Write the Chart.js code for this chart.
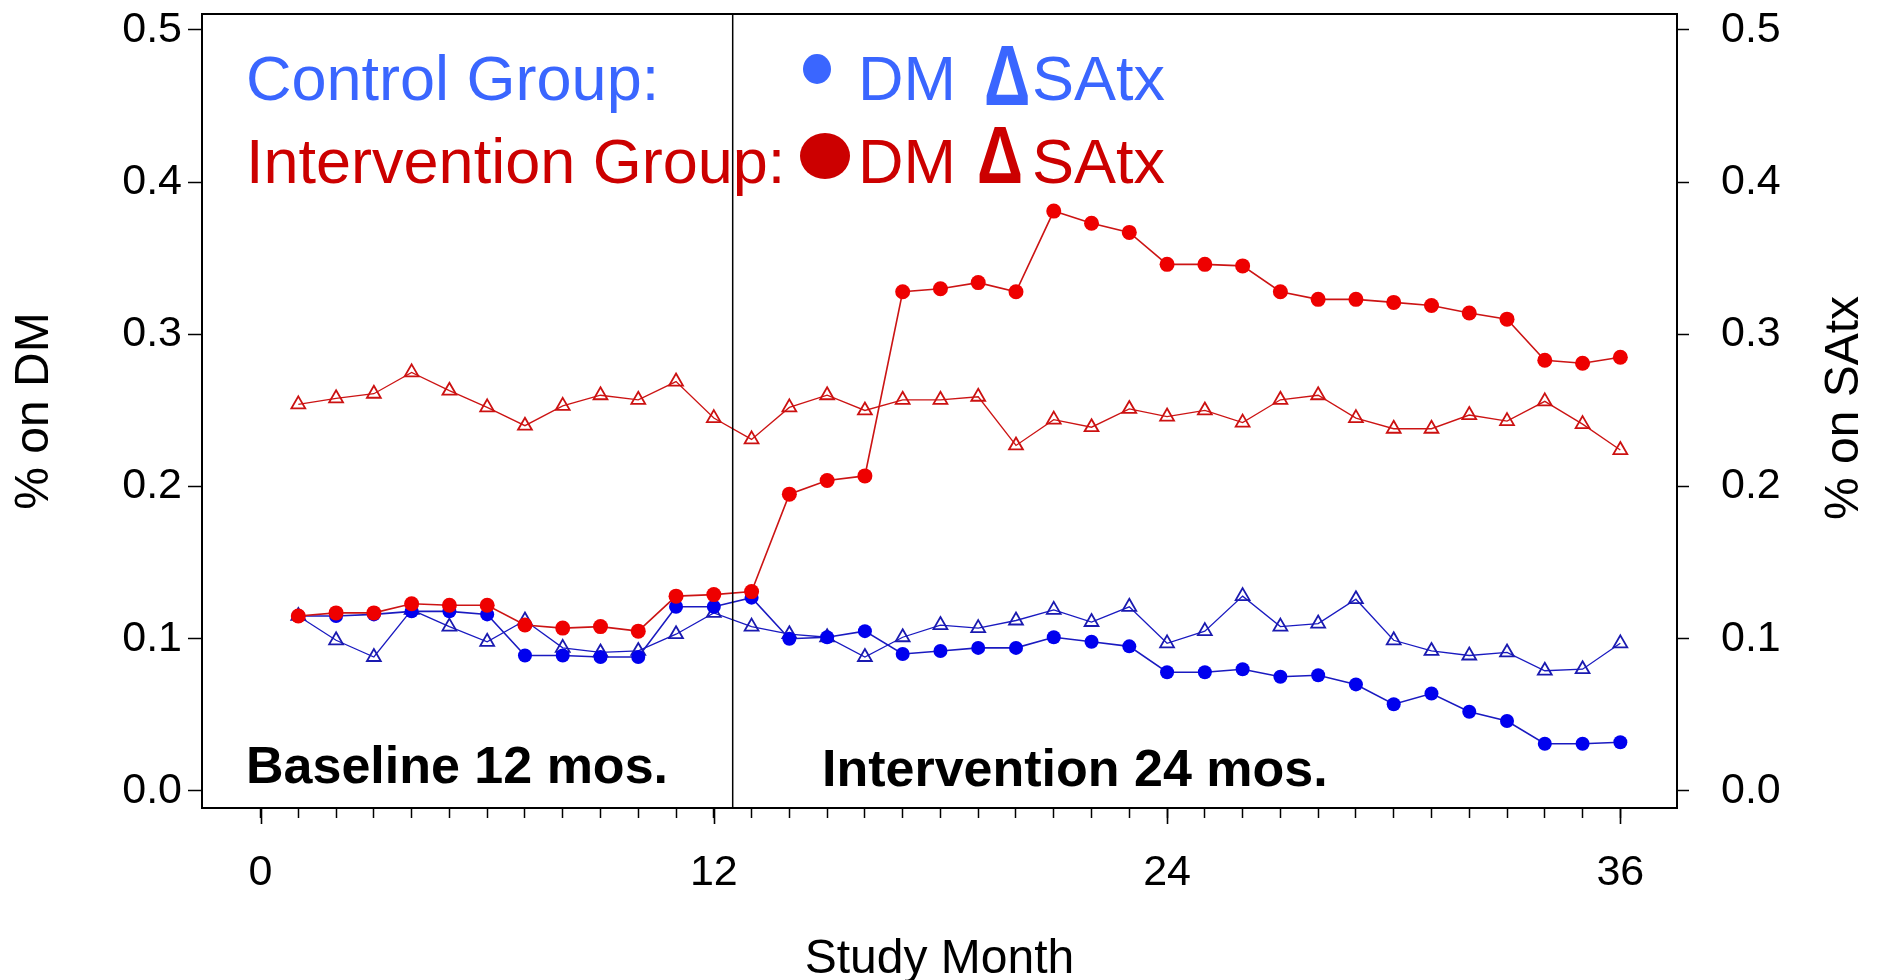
<!DOCTYPE html>
<html>
<head>
<meta charset="utf-8">
<script src="https://cdn.jsdelivr.net/npm/chart.js@4/dist/chart.umd.min.js"></script>
<style>
  html, body { margin: 0; padding: 0; background: #ffffff; }
  #wrap { position: relative; width: 1881px; height: 980px; }
</style>
</head>
<body>
<div id="wrap"><canvas id="c" width="1881" height="980"></canvas></div>
<script>
// ---------------- data ----------------
const months = [1,2,3,4,5,6,7,8,9,10,11,12,13,14,15,16,17,18,19,20,21,22,23,24,25,26,27,28,29,30,31,32,33,34,35,36];

const controlDM = [0.115,0.115,0.116,0.118,0.118,0.116,0.089,0.089,0.088,0.088,0.121,0.121,
                   0.127,0.100,0.101,0.105,0.090,0.092,0.094,0.094,0.101,0.098,0.095,0.078,
                   0.078,0.080,0.075,0.076,0.070,0.057,0.064,0.052,0.046,0.031,0.031,0.032];

const controlSAtx = [0.115,0.099,0.088,0.119,0.108,0.098,0.112,0.094,0.091,0.092,0.103,0.117,
                     0.108,0.103,0.101,0.088,0.101,0.109,0.107,0.112,0.119,0.111,0.121,0.097,
                     0.105,0.128,0.108,0.110,0.126,0.099,0.092,0.089,0.091,0.079,0.080,0.097];

const interventionDM = [0.115,0.117,0.117,0.123,0.122,0.122,0.109,0.107,0.108,0.105,0.128,0.129,
                        0.131,0.195,0.204,0.207,0.328,0.330,0.334,0.328,0.381,0.373,0.367,0.346,
                        0.346,0.345,0.328,0.323,0.323,0.321,0.319,0.314,0.310,0.283,0.281,0.285];

const interventionSAtx = [0.254,0.258,0.261,0.275,0.263,0.252,0.240,0.253,0.260,0.257,0.269,0.245,
                          0.231,0.252,0.260,0.250,0.257,0.257,0.259,0.227,0.244,0.239,0.251,0.246,
                          0.250,0.242,0.257,0.260,0.245,0.238,0.238,0.247,0.243,0.256,0.241,0.224];

const yTicks = [0.0, 0.1, 0.2, 0.3, 0.4, 0.5];
const xMinorTicks = [0,1,2,3,4,5,6,7,8,9,10,11,12,13,14,15,16,17,18,19,20,21,22,23,24,25,26,27,28,29,30,31,32,33,34,35,36];
const xMajorTicks = [0, 12, 24, 36];
const phaseBoundary = 12.5;

const xTitle = 'Study Month';
const yLeftTitle = '% on DM';
const yRightTitle = '% on SAtx';
const baselineLabel = 'Baseline 12 mos.';
const interventionLabel = 'Intervention 24 mos.';

// ---------------- styles ----------------
const FONT = "'Liberation Sans', Arial, Helvetica, sans-serif";
const RED = '#ee0000';
const RED_LINE = '#cc1414';
const BLUE = '#0000ee';
const BLUE_LINE = '#1a1ac0';
const LEG_BLUE = '#3a66ff';
const LEG_RED = '#cc0000';

const toXY = (arr) => months.map((m, i) => ({ x: m, y: arr[i] }));

// ---------------- plugins ----------------
const decorPlugin = {
  id: 'decor',
  afterDraw(chart) {
    const { ctx, chartArea: a, scales } = chart;
    const xs = scales.x;
    ctx.save();

    // frame
    ctx.strokeStyle = '#000';
    ctx.lineWidth = 2;
    ctx.strokeRect(a.left, a.top, a.right - a.left, a.bottom - a.top);

    // major x ticks (longer)
    ctx.lineWidth = 1.6;
    xMajorTicks.forEach(v => {
      const px = Math.round(xs.getPixelForValue(v)) + 0.5;
      ctx.beginPath();
      ctx.moveTo(px, a.bottom);
      ctx.lineTo(px, a.bottom + 16);
      ctx.stroke();
    });

    // phase boundary line
    const bx = xs.getPixelForValue(phaseBoundary);
    ctx.lineWidth = 1.5;
    ctx.beginPath();
    ctx.moveTo(bx, a.top);
    ctx.lineTo(bx, a.bottom);
    ctx.stroke();

    // right axis title (reads bottom-to-top, like the left one)
    ctx.fillStyle = '#000';
    ctx.font = '48px ' + FONT;
    ctx.textAlign = 'center';
    ctx.textBaseline = 'middle';
    ctx.translate(chart.width - 36, (a.top + a.bottom) / 2 - 3);
    ctx.rotate(-Math.PI / 2);
    ctx.fillText(yRightTitle, 0, 0);
    ctx.restore();

    // legend block
    ctx.save();
    ctx.textAlign = 'left';
    ctx.textBaseline = 'alphabetic';
    ctx.font = '63px ' + FONT;
    const lx = a.left + 44;
    const row1 = a.top + 86, row2 = a.top + 169;

    ctx.fillStyle = LEG_BLUE;
    ctx.fillText('Control Group:', lx, row1);
    ctx.beginPath(); ctx.ellipse(817, row1 - 31, 14, 15, 0, 0, Math.PI * 2); ctx.fill();
    ctx.fillText('DM', 858, row1);
    ctx.save();
    ctx.font = 'bold 86px ' + FONT;
    ctx.translate(984, row1 + 5);
    ctx.scale(0.75, 1);
    ctx.fillText('\u0394', 0, 0);
    ctx.restore();
    ctx.font = '63px ' + FONT;
    ctx.fillText('SAtx', 1032, row1);

    ctx.fillStyle = LEG_RED;
    ctx.fillText('Intervention Group:', lx, row2);
    ctx.beginPath(); ctx.ellipse(825, row2 - 27, 25, 23, 0, 0, Math.PI * 2); ctx.fill();
    ctx.fillText('DM', 858, row2);
    ctx.save();
    ctx.font = 'bold 82px ' + FONT;
    ctx.translate(977, row2);
    ctx.scale(0.78, 1);
    ctx.fillText('\u0394', 0, 0);
    ctx.restore();
    ctx.font = '63px ' + FONT;
    ctx.fillText('SAtx', 1032, row2);

    // period annotations
    ctx.fillStyle = '#000';
    ctx.font = 'bold 52px ' + FONT;
    ctx.fillText(baselineLabel, a.left + 44, a.bottom - 25);
    ctx.fillText(interventionLabel, 822, a.bottom - 22);
    ctx.restore();
  }
};

// ---------------- chart ----------------
const tickFont = { family: FONT, size: 43 };
const titleFont = { family: FONT, size: 48 };

new Chart(document.getElementById('c'), {
  type: 'line',
  data: {
    datasets: [
      {
        label: 'Intervention DM', data: toXY(interventionDM), yAxisID: 'y',
        borderColor: RED_LINE, borderWidth: 1.6, backgroundColor: RED,
        pointStyle: 'circle', pointRadius: 7.5, pointBorderColor: RED, pointBackgroundColor: RED,
        pointBorderWidth: 0, tension: 0
      },
      {
        label: 'Intervention SAtx', data: toXY(interventionSAtx), yAxisID: 'y2',
        borderColor: RED_LINE, borderWidth: 1.3, backgroundColor: 'rgba(0,0,0,0)',
        pointStyle: 'triangle', pointRadius: 8, pointBorderColor: '#cc1111',
        pointBackgroundColor: 'rgba(255,255,255,0)', pointBorderWidth: 1.8, tension: 0
      },
      {
        label: 'Control DM', data: toXY(controlDM), yAxisID: 'y',
        borderColor: BLUE_LINE, borderWidth: 1.6, backgroundColor: BLUE,
        pointStyle: 'circle', pointRadius: 7, pointBorderColor: BLUE, pointBackgroundColor: BLUE,
        pointBorderWidth: 0, tension: 0
      },
      {
        label: 'Control SAtx', data: toXY(controlSAtx), yAxisID: 'y2',
        borderColor: BLUE_LINE, borderWidth: 1.3, backgroundColor: 'rgba(0,0,0,0)',
        pointStyle: 'triangle', pointRadius: 8, pointBorderColor: '#1a1ab0',
        pointBackgroundColor: 'rgba(255,255,255,0)', pointBorderWidth: 1.8, tension: 0
      }
    ]
  },
  options: {
    responsive: false,
    animation: false,
    events: [],
    layout: { padding: { top: 14, left: 0, right: 0, bottom: 0 } },
    plugins: { legend: { display: false }, tooltip: { enabled: false }, title: { display: false } },
    scales: {
      x: {
        type: 'linear', position: 'bottom', min: -1.55, max: 37.5,
        afterBuildTicks: (s) => { s.ticks = xMinorTicks.map(v => ({ value: v })); },
        afterFit: (s) => { s.height = 172; s.paddingLeft = 0; s.paddingRight = 0; },
        ticks: {
          autoSkip: false, maxRotation: 0, color: '#000', font: tickFont, padding: 29,
          callback: (v) => (xMajorTicks.includes(v) ? String(v) : '')
        },
        grid: { drawOnChartArea: false, drawTicks: true, tickLength: 10, tickColor: '#000', tickWidth: 1.5 },
        border: { display: false },
        title: { display: true, text: xTitle, color: '#000', font: { family: FONT, size: 48, lineHeight: 0.85 }, padding: { top: 0, bottom: 0 } }
      },
      y: {
        type: 'linear', position: 'left', min: -0.0112, max: 0.5105,
        afterBuildTicks: (s) => { s.ticks = yTicks.map(v => ({ value: v })); },
        afterFit: (s) => { s.width = 202; s.paddingTop = 0; s.paddingBottom = 0; },
        ticks: { color: '#000', font: tickFont, padding: 6, callback: (v) => Number(v).toFixed(1) },
        grid: { drawOnChartArea: false, drawTicks: true, tickLength: 14, tickColor: '#000', tickWidth: 1.5 },
        border: { display: false },
        title: { display: true, text: yLeftTitle, color: '#000', font: titleFont, padding: { top: 6, bottom: 0 } }
      },
      y2: {
        type: 'linear', position: 'right', min: -0.0112, max: 0.5105,
        afterBuildTicks: (s) => { s.ticks = yTicks.map(v => ({ value: v })); },
        afterFit: (s) => { s.width = 204; s.paddingTop = 0; s.paddingBottom = 0; },
        ticks: { color: '#000', font: tickFont, padding: 32, callback: (v) => Number(v).toFixed(1) },
        grid: { drawOnChartArea: false, drawTicks: true, tickLength: 12, tickColor: '#000', tickWidth: 1.5 },
        border: { display: false },
        title: { display: false }
      }
    }
  },
  plugins: [decorPlugin]
});
</script>
</body>
</html>
